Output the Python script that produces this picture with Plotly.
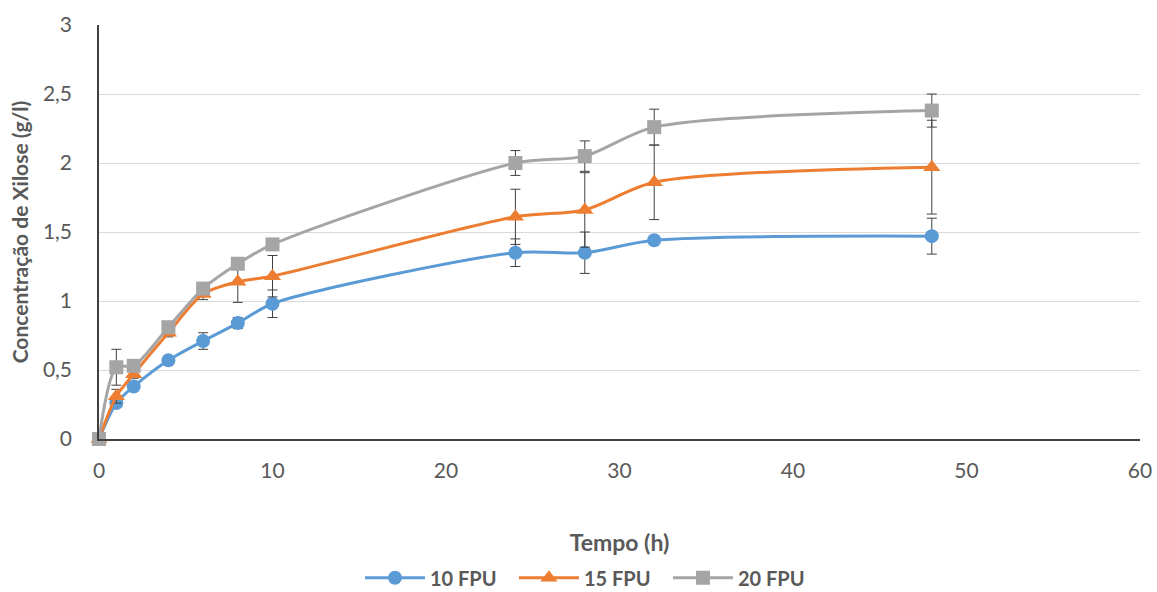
import plotly.graph_objects as go

tempo = [0, 1, 2, 4, 6, 8, 10, 24, 28, 32, 48]
fpu10 = [0, 0.26, 0.38, 0.57, 0.71, 0.84, 0.98, 1.35, 1.35, 1.44, 1.47]
fpu10_err = [0, 0.03, 0.03, 0.03, 0.06, 0.04, 0.10, 0.10, 0.15, 0.02, 0.13]
fpu15 = [0, 0.31, 0.47, 0.77, 1.05, 1.14, 1.18, 1.61, 1.66, 1.86, 1.97]
fpu15_err = [0, 0.05, 0.03, 0.03, 0.04, 0.15, 0.15, 0.20, 0.27, 0.27, 0.34]
fpu20 = [0, 0.52, 0.53, 0.81, 1.09, 1.27, 1.41, 2.00, 2.05, 2.26, 2.38]
fpu20_err = [0, 0.13, 0.03, 0.03, 0.03, 0.03, 0.03, 0.09, 0.11, 0.13, 0.12]

series = [
    ("<b>10 FPU</b>", fpu10, fpu10_err, "#5B9BD5", "circle", 14),
    ("<b>15 FPU</b>", fpu15, fpu15_err, "#ED7D31", "triangle-up", 15),
    ("<b>20 FPU</b>", fpu20, fpu20_err, "#A5A5A5", "square", 14),
]

fig = go.Figure()
for name, ys, err, color, sym, size in series:
    fig.add_trace(go.Scatter(
        x=tempo, y=ys, name=name, mode="lines+markers", cliponaxis=False,
        line=dict(color=color, width=3, shape="spline", smoothing=0.8),
        marker=dict(color=color, symbol=sym, size=size),
        error_y=dict(type="data", array=err, visible=True, color="#404040",
                     thickness=1, width=5),
    ))

font_family = "Lato, 'Open Sans', sans-serif"
fig.update_layout(
    width=1157, height=592,
    margin=dict(l=99, r=17, t=25, b=153, autoexpand=False),
    paper_bgcolor="white", plot_bgcolor="white",
    separators=",.",
    font=dict(family=font_family, color="#595959", size=20),
    xaxis=dict(
        range=[0, 60], dtick=10, showgrid=False, zeroline=False, automargin=False,
        showline=True, linecolor="#404040", linewidth=1.5,
        tickfont=dict(size=21, color="#595959"), ticks="", ticklen=0,
        ticklabelstandoff=12,
        title=dict(text="<b>Tempo (h)</b>", font=dict(size=23, color="#595959"), standoff=54),
    ),
    yaxis=dict(
        range=[0, 3], dtick=0.5, showgrid=True, gridcolor="#D9D9D9", gridwidth=1,
        zeroline=False, showline=True, linecolor="#404040", linewidth=1.5, automargin=False,
        tickfont=dict(size=21, color="#595959"), ticks="", ticklen=0,
        ticklabelstandoff=21,
        title=dict(text="<b>Concentração de Xilose (g/l)</b>", font=dict(size=21, color="#595959"), standoff=9),
    ),
    legend=dict(orientation="h", x=0.2507, xanchor="left", y=-0.335, yanchor="middle",
                font=dict(size=20, color="#595959"), itemwidth=60,
                entrywidth=79, entrywidthmode="pixels"),
    showlegend=True,
)

fig.write_html("out.html", config={"displayModeBar": False},
               post_script="document.body.style.margin='0px';")
